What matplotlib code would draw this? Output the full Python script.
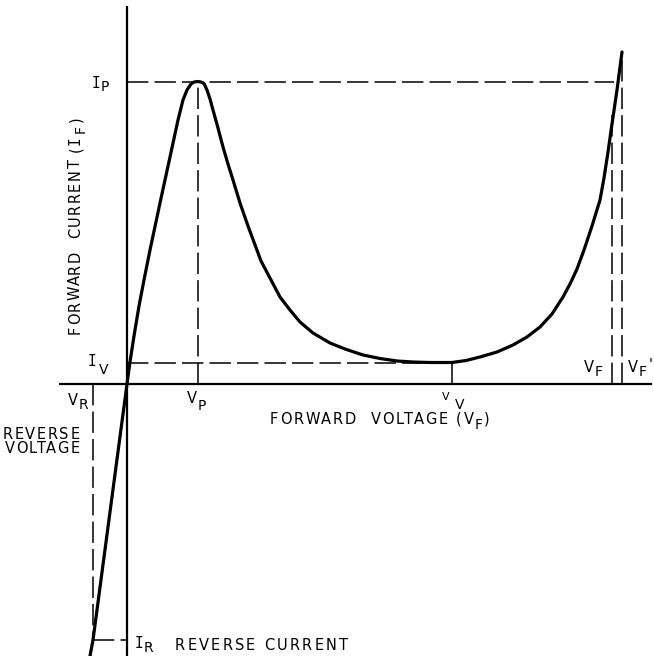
import matplotlib
matplotlib.use("Agg")
import matplotlib.pyplot as plt
from matplotlib.font_manager import FontProperties

# ---------------- data (arbitrary units: voltage, current) ----------------
voltage = [-37, -34, 0, 3, 7, 12, 17, 23, 33, 43, 51, 56, 60, 64, 67, 70.5,
           74, 77, 80, 83, 86, 91, 96, 101, 106, 113, 121, 134, 153, 163, 173,
           186, 203, 218, 236, 253, 270, 286, 303, 325, 339, 353, 370, 386,
           400, 413, 425, 436, 443, 450, 457, 465, 473, 477, 481, 485, 490, 495]
current = [-272, -256, 0, 22, 48, 78, 104, 134, 181, 227, 264, 284, 294, 300,
           302, 302.5, 302, 300.5, 294, 285, 274, 256, 237, 220, 204, 181, 158,
           123, 87, 74, 62, 51, 41, 35, 29, 25.5, 23, 22, 21.5, 21.5, 23.5, 27,
           32, 39, 47, 57, 70, 87, 100, 115, 134, 158, 184, 206, 232, 260, 294,
           332]

V_P, I_P = 70.5, 302.5      # peak point
V_V, I_V = 325, 21.5        # valley point
V_F, V_F2 = 484.5, 494.5    # forward voltages
V_R, I_R = -34, -256        # reverse point
VF_top, VF2_top = 271, 324  # where the VF / VF' guides meet the curve
Ip_end = 487

# ---------------- figure ----------------
W, H = 654, 656
X0, Y0 = 127, 384   # pixel location of the origin
fig = plt.figure(figsize=(W / 100, H / 100), dpi=100)
ax = fig.add_axes([0, 0, 1, 1])
ax.set_xlim(-X0, W - X0)
ax.set_ylim(Y0 - H, Y0)
ax.axis("off")

def P(px, py):
    """layout helper: pixel position -> axes units"""
    return px - X0, Y0 - py

# axes lines
ax.plot([0, 0], [Y0 - H, Y0 - 6], color="black", lw=1.6, solid_capstyle="butt")
ax.plot([59 - X0, 652 - X0], [0, 0], color="black", lw=1.6, solid_capstyle="butt")

# characteristic curve
ax.plot(voltage, current, color="black", lw=2.3, solid_joinstyle="round",
        solid_capstyle="round")

# dashed guides
dash = dict(color="black", lw=1.1, linestyle=(0, (14, 4)))
ax.plot([0, Ip_end], [I_P, I_P], **dash)
ax.plot([V_P, V_P], [0, I_P], **dash)
ax.plot([0, V_V], [I_V, I_V], **dash)
ax.plot([V_V, V_V], [0, I_V], **dash)
ax.plot([V_F, V_F], [0, VF_top], **dash)
ax.plot([V_F2, V_F2], [0, VF2_top], **dash)
ax.plot([V_R, V_R], [0, I_R], **dash)
ax.plot([V_R, 0], [I_R, I_R], **dash)

# ---------------- text ----------------
fig.canvas.draw()
renderer = fig.canvas.get_renderer()

SANS = "DejaVu Sans"
MONO = "DejaVu Sans Mono"
FS = 10.5

def width(s, size, family):
    fp = FontProperties(family=family, size=size)
    w, h, d = renderer.get_text_width_height_descent(s, fp, ismath=False)
    return w

def chain(x, y, s, size=FS, track=1.5, rot=0, family=SANS):
    """draw s char by char with extra letter spacing; returns end offset."""
    last_end = 0.0
    for i, c in enumerate(s):
        if c == " ":
            continue
        fam = MONO if c == "I" else family
        pre = width(s[:i + 1], size, family) - width(c, size, family)
        off = pre + i * track
        if rot == 0:
            ax.text(x + off, y, c, fontsize=size, family=fam, ha="left",
                    va="baseline")
        else:
            ax.text(x, y + off, c, fontsize=size, family=fam, ha="left",
                    va="baseline", rotation=90, rotation_mode="anchor")
        last_end = off + width(c, size, fam) + track
    return last_end

def sym(px, py, main, spx, spy, sub, size=10.5, subsize=10, fam=SANS):
    mf = MONO if main == "I" else fam
    x, y = P(px, py)
    ax.text(x, y, main, fontsize=size, family=mf, ha="left", va="baseline")
    x, y = P(spx, spy)
    ax.text(x, y, sub, fontsize=subsize, family=fam, ha="left", va="baseline")

sym(92, 88, "I", 101, 91, "P")
sym(88, 366, "I", 99, 374, "V")
sym(68, 405, "V", 79, 409, "R")
sym(187, 403, "V", 198, 410, "P")
sym(442, 400, "V", 455, 409, "V", size=8, subsize=10)
sym(584, 372, "V", 595, 376, "F")
sym(628, 372, "V", 639, 376, "F")
ax.text(*P(649, 370), "'", fontsize=10.5, family=SANS, ha="left", va="baseline")
sym(135, 648, "I", 144, 652, "R")

chain(*P(175, 650), "REVERSE CURRENT", track=2.2)

# left reverse-voltage label
for word, cx, base in [("REVERSE", 41, 439), ("VOLTAGE", 42, 453)]:
    tot = width(word, FS, SANS) + (len(word) - 1) * 1.6
    chain(*P(cx - tot / 2, base), word, track=1.6)

# forward voltage label
x, y = P(270, 424)
end = chain(x, y, "FORWARD  VOLTAGE (V", track=1.9)
ax.text(x + end - 1, y - 5, "F", fontsize=10, family=SANS, ha="left",
        va="baseline")
ax.text(x + end + 8, y, ")", fontsize=FS, family=SANS, ha="left",
        va="baseline")

# forward current label (rotated)
x, y = P(80, 334)
end = chain(x, y, "FORWARD  CURRENT (", rot=90, track=1.4)
ax.text(x, y + end, "I", fontsize=FS, family=MONO, ha="left", va="baseline",
        rotation=90, rotation_mode="anchor")
iw = width("I", FS, MONO)
ax.text(x + 5, y + end + iw + 3, "F", fontsize=10, family=SANS, ha="left",
        va="baseline", rotation=90, rotation_mode="anchor")
fw = width("F", 10, SANS)
ax.text(x, y + end + iw + fw + 6, ")", fontsize=FS, family=SANS, ha="left",
        va="baseline", rotation=90, rotation_mode="anchor")

fig.savefig("out.png", dpi=100, facecolor="white")
